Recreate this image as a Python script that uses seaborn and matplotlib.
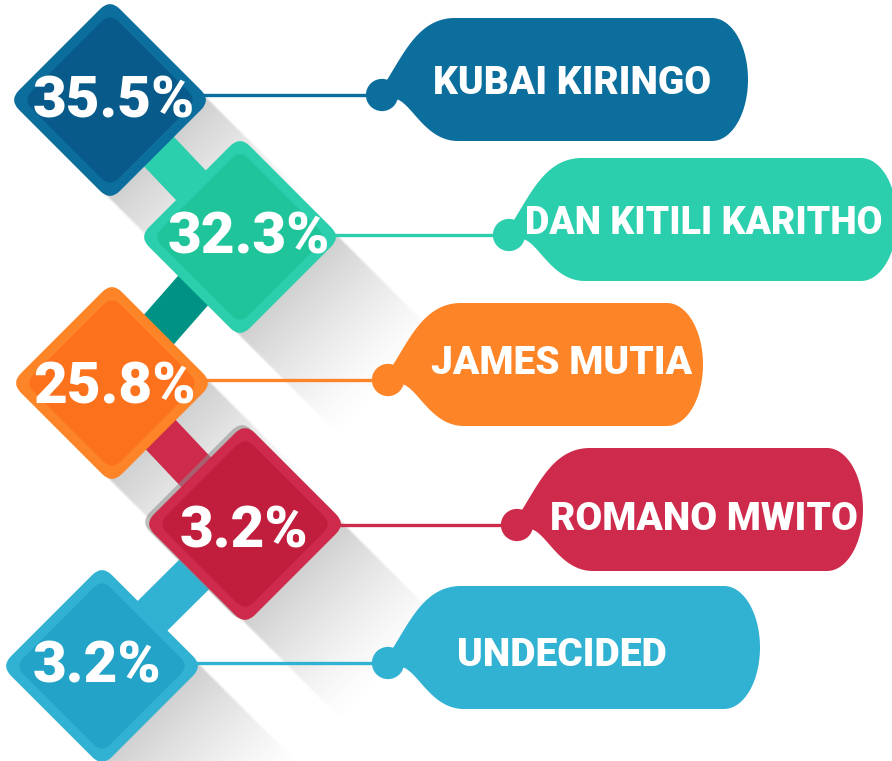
import numpy as np
import matplotlib
matplotlib.use("Agg")
import matplotlib.pyplot as plt
import seaborn as sns
from matplotlib.patches import FancyBboxPatch, Polygon
from matplotlib.transforms import Affine2D
from matplotlib import font_manager

# ---------------- data ----------------
names = ["KUBAI KIRINGO", "DAN KITILI KARITHO", "JAMES MUTIA", "ROMANO MWITO", "UNDECIDED"]
shares = [35.5, 32.3, 25.8, 3.2, 3.2]
pct_labels = [f"{v:.1f}%" for v in shares]

outer_colors = ["#0B6E9D", "#2BCEAD", "#FD8427", "#CE2A4B", "#32B2D3"]
inner_colors = ["#075A8A", "#1FC49A", "#FC711C", "#C01E3C", "#23A3C8"]
link_colors = ["#2BCEAD", "#009385", "#CE2A4B", "#32B2D3"]

# ---------------- layout (pixels, y downward) ----------------
W, H = 892, 761
dia_x = [110, 240, 112, 245, 102]
dia_y = [100, 237, 383, 524, 666]
pct_x = [114, 249, 115, 244, 97]
pct_y = [96, 232, 382, 526, 661]
dot_x = [382, 509, 388, 517, 388]
dot_y = [95, 235, 380, 525, 663]
bub_right = [748, 897, 703, 863, 760]
name_x = [572, 704, 562, 704, 562]
name_y = [79, 219, 360, 516, 651]
name_size = [28, 27, 28, 28, 28]

sns.set_theme(style="white")
avail = {f.name for f in font_manager.fontManager.ttflist}
pct_font = [f for f in ["Roboto", "Lato", "DejaVu Sans"] if f in avail] + ["DejaVu Sans"]
name_font = [f for f in ["Roboto", "Lato", "DejaVu Sans"] if f in avail] + ["DejaVu Sans"]

fig = plt.figure(figsize=(W / 100, H / 100), dpi=100)
ax = fig.add_axes([0, 0, 1, 1])

# ---- long shadows ----
HALF = 71.3
yy, xx = np.mgrid[0:H, 0:W] + 0.5
alpha = np.zeros((H, W))
for cx, cy in zip(dia_x, dia_y):
    s = ((xx - cx) + (yy - cy)) / np.sqrt(2)
    p = ((xx - cx) - (yy - cy)) / np.sqrt(2)
    edge = np.clip((HALF - np.abs(p)) / 3.0, 0, 1)
    a = np.clip(1 - (s - 60) / 150, 0, 1) ** 1.3 * 0.5
    a = np.where(s >= 0, a * edge, 0)
    alpha = np.maximum(alpha, a)
rgba = np.zeros((H, W, 4))
rgba[..., :3] = 0.6
rgba[..., 3] = alpha
ax.imshow(rgba, extent=(0, W, H, 0), zorder=1, interpolation="bilinear", aspect="auto")

# ---- connectors ----
def bar(x0, y0, x1, y1, w, color, z):
    d = np.array([x1 - x0, y1 - y0], float)
    d /= np.linalg.norm(d)
    n = np.array([-d[1], d[0]]) * w / 2
    p0, p1 = np.array([x0, y0], float), np.array([x1, y1], float)
    ax.add_patch(Polygon([p0 + n, p1 + n, p1 - n, p0 - n], closed=True,
                         fc=color, ec="none", zorder=z))

for i, c in enumerate(link_colors):
    bar(dia_x[i], dia_y[i], dia_x[i + 1], dia_y[i + 1], 42, c, 2)

# ---- bubbles ----
def bezier(p0, p1, p2, p3, n=50):
    t = np.linspace(0, 1, n)[:, None]
    p0, p1, p2, p3 = map(np.array, (p0, p1, p2, p3))
    return (1 - t) ** 3 * p0 + 3 * (1 - t) ** 2 * t * p1 + 3 * (1 - t) * t ** 2 * p2 + t ** 3 * p3

def bubble(cx, cy, xr, color):
    yt, yb = cy - 77, cy + 46
    rx = 36
    ym, ry = (yt + yb) / 2, (yb - yt) / 2
    upper = bezier((cx + 5, cy - 15), (cx + 23, cy - 44), (cx + 38, yt), (cx + 73, yt))
    lower = bezier((cx + 14, cy + 4), (cx + 30, cy + 8), (cx + 43, yb), (cx + 76, yb))
    th = np.linspace(-np.pi / 2, np.pi / 2, 60)
    arc = np.column_stack([xr - rx + rx * np.cos(th), ym + ry * np.sin(th)])
    pts = np.vstack([upper, arc, lower[::-1]])
    ax.add_patch(Polygon(pts, closed=True, fc=color, ec="none", zorder=2))

for i in range(5):
    bubble(dot_x[i], dot_y[i], bub_right[i], outer_colors[i])

# ---- leader lines ----
for i in range(5):
    ax.plot([dia_x[i], dot_x[i]], [dot_y[i], dot_y[i]], color=outer_colors[i],
            lw=2.4, solid_capstyle="butt", zorder=3)

# ---- dots (seaborn) ----
sns.scatterplot(x=dot_x, y=dot_y, hue=names, hue_order=names, palette=outer_colors,
                s=540, linewidth=0, legend=False, ax=ax, zorder=4)

# ---- diamonds ----
def diamond(cx, cy, h, r, color, z, alpha=1.0):
    patch = FancyBboxPatch((cx - h, cy - h), 2 * h, 2 * h,
                           boxstyle=f"round,pad=0,rounding_size={r}",
                           fc=color, ec="none", zorder=z, alpha=alpha)
    patch.set_transform(Affine2D().rotate_deg_around(cx, cy, 45) + ax.transData)
    ax.add_patch(patch)

# subtle dark halo around the 4th diamond
diamond(dia_x[3] - 3, dia_y[3] - 2, 72, 14, "#8C8C8C", 4.5, alpha=0.55)
for i in range(5):
    diamond(dia_x[i], dia_y[i], 71.3, 14, outer_colors[i], 5)
    diamond(dia_x[i], dia_y[i], 61.5, 12, inner_colors[i], 6)

# ---- texts ----
for i in range(5):
    ax.text(pct_x[i], pct_y[i], pct_labels[i], ha="center", va="center_baseline",
            color="white", fontsize=42, fontweight="black", family=pct_font, zorder=7)
    ax.text(name_x[i], name_y[i], names[i], ha="center", va="center_baseline",
            color="white", fontsize=name_size[i], fontweight="black", family=name_font, zorder=7)

ax.set_xlim(0, W)
ax.set_ylim(H, 0)
ax.axis("off")
fig.savefig("out.png", dpi=100)
